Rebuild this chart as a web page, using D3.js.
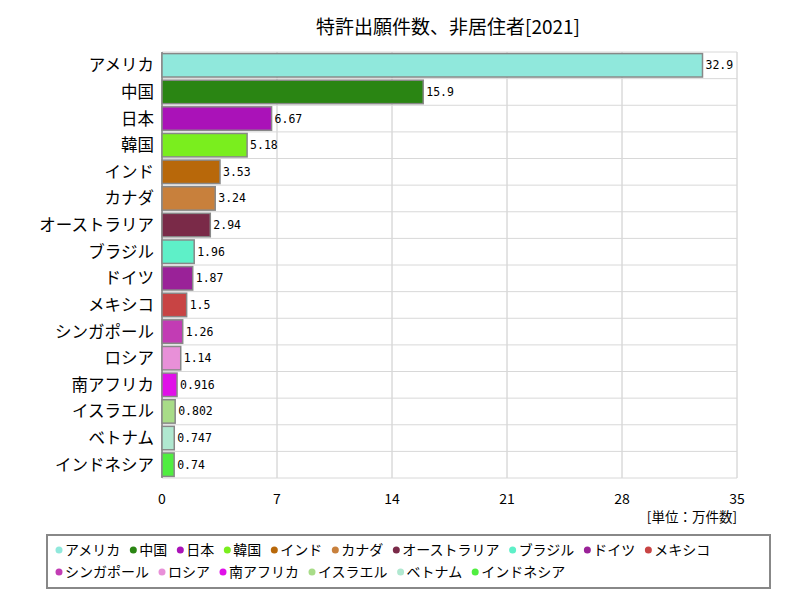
<!DOCTYPE html>
<html><head><meta charset="utf-8">
<script src="https://cdn.jsdelivr.net/npm/d3@7"></script>
<style>body{margin:0;background:#fff}text{font-family:"Noto Sans CJK JP",sans-serif}text.val{font-family:"DejaVu Sans Mono",monospace}</style>
</head><body><svg id="chart" width="800" height="600"></svg>
<script>
var countries = ['アメリカ','中国','日本','韓国','インド','カナダ','オーストラリア','ブラジル','ドイツ','メキシコ','シンガポール','ロシア','南アフリカ','イスラエル','ベトナム','インドネシア'];
var values = [32.9, 15.9, 6.67, 5.18, 3.53, 3.24, 2.94, 1.96, 1.87, 1.5, 1.26, 1.14, 0.916, 0.802, 0.747, 0.74];
var labels = ['32.9','15.9','6.67','5.18','3.53','3.24','2.94','1.96','1.87','1.5','1.26','1.14','0.916','0.802','0.747','0.74'];
var colors = ['#90e8dc','#2a8513','#aa12b8','#7aee1e','#b8680a','#c8803c','#7a2a48','#5ef0c8','#9a2298','#c84444','#c23cb4','#e890d8','#e010e8','#a8dc88','#b0e8d0','#50ee40'];
var xTicks = [0, 7, 14, 21, 28, 35];

var svg = d3.select('#chart');
var m = {left: 162, right: 737, top: 52, bottom: 478};

var x = d3.scaleLinear().domain([0, 35]).range([m.left, m.right]);
var y = d3.scaleBand().domain(countries).range([m.top, m.bottom]).paddingInner(0.12).paddingOuter(0.06);

svg.append('text').attr('x', 448).attr('y', 34).attr('text-anchor', 'middle')
  .attr('font-size', 19).text('特許出願件数、非居住者[2021]');

// grid
svg.selectAll('.vg').data(xTicks).enter().append('line')
  .attr('x1', d => x(d)).attr('x2', d => x(d)).attr('y1', m.top).attr('y2', m.bottom)
  .attr('stroke', '#c8c8c8');
var step = (m.bottom - m.top) / countries.length;
svg.selectAll('.hg').data(d3.range(countries.length + 1)).enter().append('line')
  .attr('x1', m.left).attr('x2', m.right).attr('y1', d => m.top + d * step).attr('y2', d => m.top + d * step)
  .attr('stroke', '#d8d8d8');
svg.append('line').attr('x1', m.left).attr('x2', m.left).attr('y1', m.top).attr('y2', m.bottom).attr('stroke', '#555');

svg.selectAll('.bar').data(values).enter().append('rect')
  .attr('x', x(0)).attr('y', (d, i) => y(countries[i]))
  .attr('width', d => x(d) - x(0)).attr('height', y.bandwidth())
  .attr('fill', (d, i) => colors[i]).attr('stroke', '#888').attr('stroke-width', 1.5);

svg.selectAll('.vl').data(values).enter().append('text').attr('class', 'val')
  .attr('x', d => x(d) + 3).attr('y', (d, i) => y(countries[i]) + y.bandwidth() / 2 + 4)
  .attr('font-size', 11.5).text((d, i) => labels[i]);

svg.selectAll('.cl').data(countries).enter().append('text')
  .attr('x', m.left - 8).attr('y', d => y(d) + y.bandwidth() / 2 + 6)
  .attr('text-anchor', 'end').attr('font-size', 16.5).text(d => d);

svg.selectAll('.xt').data(xTicks).enter().append('text')
  .attr('x', d => x(d)).attr('y', 504).attr('text-anchor', 'middle').attr('font-size', 14).text(d => d);
svg.append('text').attr('x', 737).attr('y', 522).attr('text-anchor', 'end').attr('font-size', 13.5).text('[単位：万件数]');

// legend
svg.append('rect').attr('x', 47).attr('y', 535).attr('width', 723).attr('height', 53)
  .attr('fill', '#fff').attr('stroke', '#888').attr('stroke-width', 2);
var lx = 52, ly = 551;
countries.forEach(function(c, i) {
  if (i === 10) { lx = 52; ly = 573; }
  svg.append('circle').attr('cx', lx + 7).attr('cy', ly - 1).attr('r', 3.5).attr('fill', colors[i]);
  var t = svg.append('text').attr('x', lx + 13).attr('y', ly + 4).attr('font-size', 14).text(c);
  lx += 13 + t.node().getComputedTextLength() + 6;
});
</script></body></html>
